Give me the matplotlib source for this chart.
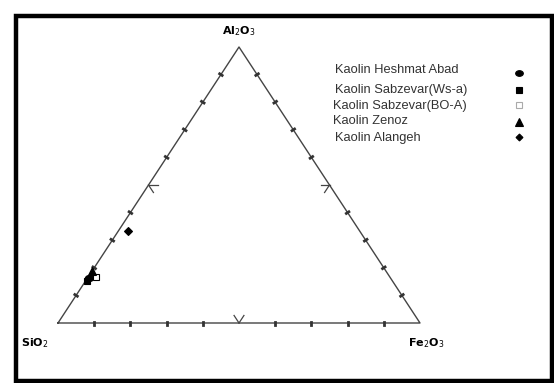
import numpy as np
import matplotlib.pyplot as plt
from matplotlib.patches import Rectangle
from matplotlib.path import Path
from matplotlib.transforms import Affine2D

# ternary data (fractions): SiO2, Al2O3, Fe2O3
samples = ["Kaolin Heshmat Abad", "Kaolin Sabzevar(Ws-a)", "Kaolin Sabzevar(BO-A)",
           "Kaolin Zenoz", "Kaolin Alangeh"]
sio2 = [0.833, 0.844, 0.811, 0.812, 0.640]
al2o3 = [0.163, 0.152, 0.167, 0.188, 0.333]
fe2o3 = [0.004, 0.004, 0.022, 0.000, 0.027]
fills = ["k", "k", "w", "k", "k"]

ellipse = Path.unit_circle().transformed(Affine2D().scale(1.35, 1.0))
mshape = [ellipse, "s", "s", "^", "D"]
msize = [6, 5, 5, 6, 4]

# triangle corners in figure pixels (SiO2, Al2O3, Fe2O3)
A = np.array([58.0, 323.0])
B = np.array([239.0, 47.0])
C = np.array([420.0, 323.0])


def tern(s, a, f):
    return s * A[0] + a * B[0] + f * C[0], s * A[1] + a * B[1] + f * C[1]


fig = plt.figure(figsize=(5.54, 3.83), dpi=100)
ax = fig.add_axes([0, 0, 1, 1])
ax.set_xlim(0, 554)
ax.set_ylim(383, 0)
ax.axis("off")

ax.add_patch(Rectangle((15.5, 15.5), 536, 365, fill=False, lw=3.2, ec="k"))

tri = np.array([A, B, C, A])
ax.plot(tri[:, 0], tri[:, 1], color="#444", lw=1.0)

# ticks every 10 %, grid stubs at 50 %
for p, q, r in [(A, B, C), (B, C, A), (C, A, B)]:
    d = (q - p) / np.linalg.norm(q - p)
    nrm = np.array([-d[1], d[0]])
    for k in range(1, 10):
        t = p + (q - p) * k / 10
        if k == 5:
            u1 = (r - q) / np.linalg.norm(r - q)
            u2 = (r - p) / np.linalg.norm(r - p)
            for u in (u1, u2):
                ax.plot([t[0], t[0] + 9 * u[0]], [t[1], t[1] + 9 * u[1]], color="#444", lw=0.9)
        else:
            ax.plot([t[0] - 1.5 * nrm[0], t[0] + 1.5 * nrm[0]],
                    [t[1] - 1.5 * nrm[1], t[1] + 1.5 * nrm[1]], color="#333", lw=2.0)

for i in range(len(samples)):
    x, y = tern(sio2[i], al2o3[i], fe2o3[i])
    ax.plot(x, y, marker=mshape[i], ms=msize[i], mfc=fills[i], mec="k", mew=0.8, ls="none")

# vertex labels
ax.text(239, 31, "Al$_2$O$_3$", ha="center", va="center", fontsize=8, fontweight="bold")
ax.text(35, 343, "SiO$_2$", ha="center", va="center", fontsize=8, fontweight="bold")
ax.text(426, 343, "Fe$_2$O$_3$", ha="center", va="center", fontsize=8, fontweight="bold")

# legend
leg_y = [70, 90, 106, 121, 138]
leg_x = [335, 335, 333, 333, 335]
mk_y = [73, 90, 105, 122, 137]
for i in range(len(samples)):
    ax.text(leg_x[i], leg_y[i], samples[i], ha="left", va="center", fontsize=9.3,
            family="Liberation Sans", color="#333")
    ax.plot(519, mk_y[i], marker=mshape[i], ms=msize[i] - 0.5, mfc=fills[i],
            mec="k" if i != 2 else "#aaa", mew=0.8, ls="none")

fig.savefig("out.png", dpi=100)
